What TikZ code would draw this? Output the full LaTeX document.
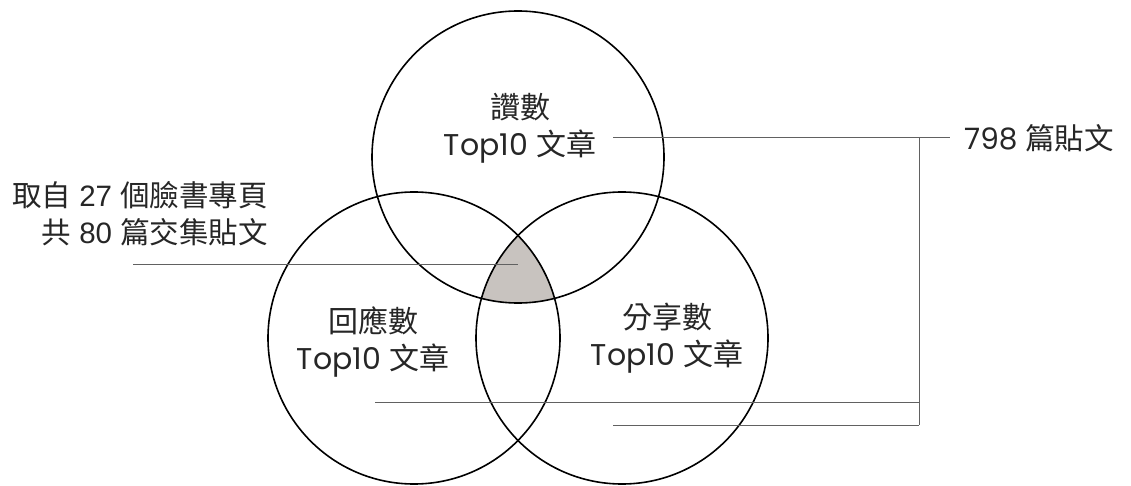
\documentclass[tikz,border=0pt]{standalone}
\usepackage{fontspec}
\setmainfont{Poppins}
\newfontfamily\cjk{Noto Sans CJK TC}
\newfontfamily\arialf{Liberation Sans}
\begin{document}
\begin{tikzpicture}[x=1pt,y=-1pt,
  ring/.style={draw=black,line width=1.6pt},
  lead/.style={draw=black!62,line width=0.9pt},
  lbl/.style={font=\fontsize{30}{37}\selectfont,align=center,inner sep=0pt,text=black!85}]
\useasboundingbox (0,0) rectangle (1131,486);
\coordinate (cT) at (518,157);
\coordinate (cL) at (414,338);
\coordinate (cR) at (622,338);
\begin{scope}
  \clip (cT) circle[radius=146];
  \clip (cL) circle[radius=146];
  \fill[fill={rgb,255:red,200;green,195;blue,191}] (cR) circle[radius=146];
\end{scope}
\draw[ring] (cT) circle[radius=146];
\draw[ring] (cL) circle[radius=146];
\draw[ring] (cR) circle[radius=146];
\node[lbl] (tT) at (520,128) {{\cjk 讚數}\\Top10 {\cjk 文章}};
\node[lbl] (tL) at (373,342) {{\cjk 回應數}\\Top10 {\cjk 文章}};
\node[lbl] (tR) at (667,338) {{\cjk 分享數}\\Top10 {\cjk 文章}};
\node[lbl,align=right,anchor=east,font=\fontsize{29.5}{37}\selectfont\arialf] (src) at (268,214) {{\cjk 取自} 27 {\cjk 個臉書專頁}\\{\cjk 共} 80 {\cjk 篇交集貼文}};
\node[lbl,anchor=west,font=\fontsize{29.5}{37}\selectfont] (tot) at (964,138) {798 {\cjk 篇貼文}};
\coordinate (aT) at (613,137);
\coordinate (aL) at (375,402);
\coordinate (aR) at (613,425);
\coordinate (aS) at (133,264);
\coordinate (aI) at (518,264);
\coordinate (j1) at (919,137);
\coordinate (j2) at (919,402);
\coordinate (j3) at (919,425);
\coordinate (aE) at (950,137);
\draw[lead] (aT) -- (aE);
\draw[lead] (j1) -- (j3);
\draw[lead] (aL) -- (j2);
\draw[lead] (aR) -- (j3);
\draw[lead] (aS) -- (aI);
\end{tikzpicture}
\end{document}
